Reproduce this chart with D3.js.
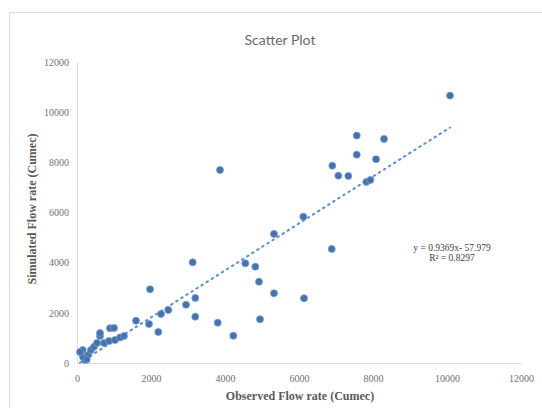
<!DOCTYPE html>
<html><head><meta charset="utf-8">
<script src="https://cdn.jsdelivr.net/npm/d3@7"></script>
<style>html,body{margin:0;padding:0;background:#fff;}svg{display:block;}</style>
</head><body>
<svg id="chart" width="542" height="408"></svg>
<script>
// Data (Observed vs Simulated flow rate, Cumec)
const observed = [154, 216, 162, 297, 81, 262, 378, 460, 541, 622, 622, 892, 1000, 730, 865, 1027, 1162, 1270,
  1595, 1946, 2197, 2270, 2468, 1973, 2946, 3197, 3197, 3803, 4225, 4946, 3127, 4549, 4819, 4919, 5325, 5325,
  6117, 6136, 6885, 3865, 6901, 7063, 7333, 7560, 7560, 8082, 7820, 7930, 8298, 10082];
const simulated = [518, 120, 239, 319, 439, 140, 518, 650, 798, 1077, 1196, 1384, 1396, 798, 877, 917, 1017, 1077,
  1687, 1555, 1236, 1954, 2114, 2939, 2325, 2592, 1846, 1607, 1089, 1743, 4016, 3976, 3840, 3242, 2780, 5145,
  5834, 2580, 4546, 7697, 7868, 7470, 7458, 9065, 8307, 8124, 7220, 7300, 8933, 10660];
const xTicks = [0, 2000, 4000, 6000, 8000, 10000, 12000];
const yTicks = [0, 2000, 4000, 6000, 8000, 10000, 12000];
const slope = 0.9369, intercept = -57.979;
const equationLines = ["y = 0.9369x- 57.979", "R² = 0.8297"];
const titleText = "Scatter Plot";
const xTitle = "Observed Flow rate (Cumec)";
const yTitle = "Simulated Flow rate (Cumec)";

const svg = d3.select("#chart");
const mLeft = 77, mRight = 521, mTop = 62, mBottom = 363;
const x = d3.scaleLinear().domain([0, 12000]).range([mLeft, mRight]);
const y = d3.scaleLinear().domain([0, 12000]).range([mBottom, mTop]);

// chart area border
svg.append("rect").attr("x", 9.5).attr("y", 12.5).attr("width", 600).attr("height", 500)
  .attr("fill", "#fff").attr("stroke", "#d9d9d9");

svg.append("text").attr("x", 280).attr("y", 45).attr("text-anchor", "middle")
  .attr("font-family", "Lato, 'Open Sans', sans-serif").attr("font-size", 14).attr("fill", "#6a6a6a")
  .text(titleText);

const serif = "'Liberation Serif', 'Times New Roman', serif";

// axes
const xAxis = svg.append("g").attr("transform", `translate(0,${mBottom})`)
  .call(d3.axisBottom(x).tickValues(xTicks).tickSize(0).tickPadding(12).tickFormat(d3.format("d")));
const yAxis = svg.append("g").attr("transform", `translate(${mLeft},0)`)
  .call(d3.axisLeft(y).tickValues(yTicks).tickSize(0).tickPadding(8).tickFormat(d3.format("d")));
[xAxis, yAxis].forEach(g => {
  g.select(".domain").attr("stroke", "#d9d9d9").attr("stroke-width", 1);
  g.selectAll("text").attr("font-family", serif).attr("font-size", 10).attr("fill", "#707070");
});

// trendline
const xMin = d3.min(observed), xMax = d3.max(observed);
svg.append("line")
  .attr("x1", x(xMin)).attr("y1", y(slope * xMin + intercept))
  .attr("x2", x(xMax)).attr("y2", y(slope * xMax + intercept))
  .attr("stroke", "#5b8fc9").attr("stroke-width", 2).attr("stroke-dasharray", "1.5,4.5")
  .attr("stroke-linecap", "round");

// points
svg.append("g").selectAll("circle").data(observed.map((o, i) => [o, simulated[i]])).join("circle")
  .attr("cx", d => x(d[0])).attr("cy", d => y(d[1])).attr("r", 3.5)
  .attr("fill", "#4a72aa").attr("stroke", "#6a9bd8").attr("stroke-width", 0.8);

// equation
svg.append("g").selectAll("text").data(equationLines).join("text")
  .attr("x", 452).attr("y", (d, i) => 251 + i * 10).attr("text-anchor", "middle")
  .attr("font-family", serif).attr("font-size", 9.5).attr("fill", "#404040").text(d => d);

// axis titles
svg.append("text").attr("x", 300).attr("y", 400).attr("text-anchor", "middle")
  .attr("font-family", serif).attr("font-size", 12).attr("font-weight", "bold").attr("fill", "#595959")
  .text(xTitle);
svg.append("text").attr("transform", "translate(36,209) rotate(-90)").attr("text-anchor", "middle")
  .attr("font-family", serif).attr("font-size", 12).attr("font-weight", "bold").attr("fill", "#595959")
  .text(yTitle);
</script>
</body></html>
